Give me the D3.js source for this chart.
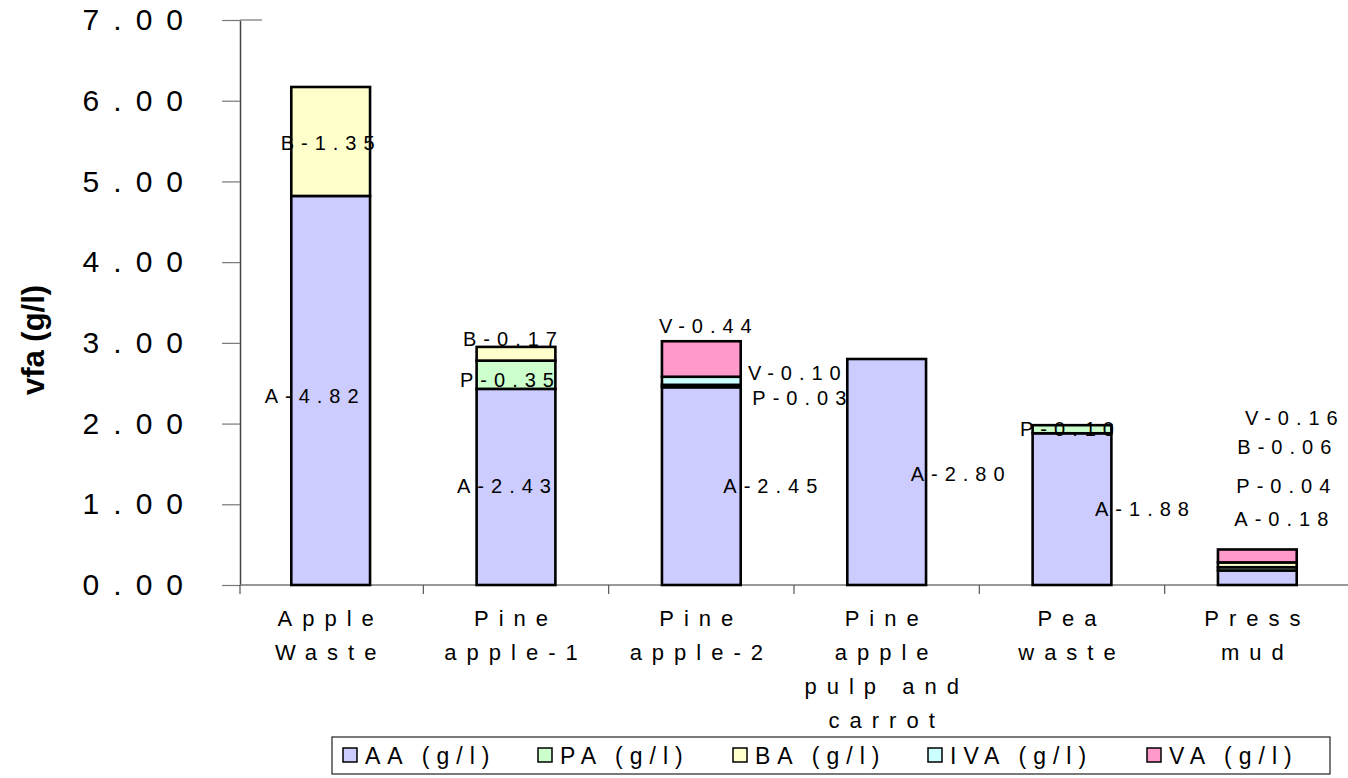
<!DOCTYPE html>
<html>
<head>
<meta charset="utf-8">
<script src="https://cdn.jsdelivr.net/npm/d3@7"></script>
<style>
  html, body { margin: 0; padding: 0; background: #fff; }
  svg { display: block; font-family: "Liberation Sans", Arial, sans-serif; }
</style>
</head>
<body>
<svg id="chart" width="1348" height="778"></svg>
<script>
// ---------------- data ----------------
const categories = ["Apple Waste", "Pine apple-1", "Pine apple-2", "Pine apple pulp and carrot", "Pea waste", "Press mud"];
const categoryLines = [["Apple", "Waste"], ["Pine", "apple-1"], ["Pine", "apple-2"], ["Pine", "apple", "pulp and", "carrot"], ["Pea", "waste"], ["Press", "mud"]];
const seriesNames = ["AA (g/l)", "PA (g/l)", "BA (g/l)", "IVA (g/l)", "VA (g/l)"];
const seriesPrefix = ["A", "P", "B", "V", "V"];
const AA  = [4.82, 2.43, 2.45, 2.80, 1.88, 0.18];
const PA  = [0.00, 0.35, 0.03, 0.00, 0.10, 0.04];
const BA  = [1.35, 0.17, 0.00, 0.00, 0.00, 0.06];
const IVA = [0.00, 0.00, 0.10, 0.00, 0.00, 0.00];
const VA  = [0.00, 0.00, 0.44, 0.00, 0.00, 0.16];
const yTickValues = [0, 1, 2, 3, 4, 5, 6, 7];
const yTitle = "vfa (g/l)";

// ---------------- styles / layout ----------------
const colors = ["#ccccff", "#ccffcc", "#ffffcc", "#ccffff", "#ff99cc"];
// label offsets (px) from bar centre / segment middle: [series][category]
const labelOffsets = [
  [[-19, 6], [-12, -1], [69, 0], [71, 2], [70, 0], [24, -59]],
  [[0, 0], [-9, 5], [98, 12], [0, 0], [-5, 0], [26, -83]],
  [[-3, 2], [-6, -15], [0, 0], [0, 0], [0, 0], [27, -118]],
  [[0, 0], [0, 0], [93, -8], [0, 0], [0, 0], [0, 0]],
  [[0, 0], [0, 0], [4, -33], [0, 0], [0, 0], [34, -138]]
];
const legendItemX = [343, 538, 733, 928, 1147];

const seriesData = [AA, PA, BA, IVA, VA];
const rows = categories.map((c, i) => {
  const r = { cat: c };
  seriesNames.forEach((s, k) => r[s] = seriesData[k][i]);
  return r;
});

const svg = d3.select("#chart");

const x = d3.scaleBand().domain(categories).range([238, 1350]).padding(0);
const y = d3.scaleLinear().domain([0, 7]).range([585, 20]);
const barW = x.bandwidth() * 0.425;

const stack = d3.stack().keys(seriesNames);
const stacked = stack(rows);

// y axis
const yAxis = d3.axisLeft(y).tickValues(yTickValues).tickFormat(d3.format(".2f"))
  .tickSizeInner(18).tickSizeOuter(0).tickPadding(25);
const gy = svg.append("g").attr("transform", "translate(240,0)").call(yAxis);
gy.select(".domain").attr("stroke", "#444").attr("stroke-width", 1.5);
gy.selectAll(".tick line").attr("stroke", "#777").attr("stroke-width", 1.2);
gy.selectAll(".tick text")
  .attr("fill", "#000")
  .style("font-size", "30px")
  .style("letter-spacing", "14px")
  .attr("font-family", "Liberation Sans, Arial, sans-serif");

// top short line at 7.00
svg.append("line").attr("x1", 240).attr("x2", 262).attr("y1", y(7)).attr("y2", y(7))
  .attr("stroke", "#777").attr("stroke-width", 1.2);

// x axis line and ticks
svg.append("line").attr("x1", 240).attr("x2", 1348).attr("y1", y(0)).attr("y2", y(0))
  .attr("stroke", "#777").attr("stroke-width", 1.5);
const boundaries = categories.map(c => x(c)).concat([x(categories[categories.length - 1]) + x.bandwidth()]);
svg.append("g").selectAll("line").data(boundaries).join("line")
  .attr("x1", d => Math.max(d, 240)).attr("x2", d => Math.max(d, 240))
  .attr("y1", y(0)).attr("y2", y(0) + 9)
  .attr("stroke", "#555").attr("stroke-width", 1.2);

// y title
svg.append("text")
  .attr("transform", "translate(44,340) rotate(-90)")
  .attr("text-anchor", "middle")
  .style("font-size", "31px").style("font-weight", "bold")
  .text(yTitle);

// bars
const layers = svg.append("g").selectAll("g").data(stacked).join("g")
  .attr("fill", (d, k) => colors[k]);
layers.selectAll("rect").data(d => d.filter(s => s[1] - s[0] > 0)).join("rect")
  .attr("x", d => x(d.data.cat) + x.bandwidth() / 2 - barW / 2)
  .attr("width", barW)
  .attr("y", d => y(d[1]))
  .attr("height", d => y(d[0]) - y(d[1]))
  .attr("stroke", "#000").attr("stroke-width", 2.6);

// data labels
const labelLS = 7;
const labG = svg.append("g");
stacked.forEach((layer, k) => {
  layer.forEach((seg, i) => {
    const v = seriesData[k][i];
    if (v <= 0) return;
    const off = labelOffsets[k][i];
    const cx = x(seg.data.cat) + x.bandwidth() / 2 + off[0] + labelLS / 2;
    const cy = y((seg[0] + seg[1]) / 2) + off[1];
    labG.append("text")
      .attr("x", cx).attr("y", cy)
      .attr("text-anchor", "middle").attr("dominant-baseline", "central")
      .style("font-size", "20px").style("letter-spacing", labelLS + "px")
      .text(seriesPrefix[k] + "-" + v.toFixed(2));
  });
});

// category labels
const catLS = 10;
const catG = svg.append("g");
categories.forEach((c, i) => {
  const t = catG.append("text")
    .attr("text-anchor", "middle")
    .style("font-size", "22px").style("letter-spacing", catLS + "px");
  categoryLines[i].forEach((ln, j) => {
    t.append("tspan")
      .attr("x", x(c) + x.bandwidth() / 2)
      .attr("y", 626 + j * 34)
      .text(ln);
  });
});

// legend
const lg = svg.append("g");
lg.append("rect").attr("x", 332).attr("y", 737).attr("width", 998).attr("height", 37)
  .attr("fill", "none").attr("stroke", "#222").attr("stroke-width", 1.2);
seriesNames.forEach((s, k) => {
  lg.append("rect").attr("x", legendItemX[k]).attr("y", 748).attr("width", 14).attr("height", 14)
    .attr("fill", colors[k]).attr("stroke", "#000").attr("stroke-width", 1.5);
  lg.append("text").attr("x", legendItemX[k] + 22).attr("y", 764)
    .style("font-size", "23px").style("letter-spacing", "7px")
    .text(s);
});
</script>
</body>
</html>
